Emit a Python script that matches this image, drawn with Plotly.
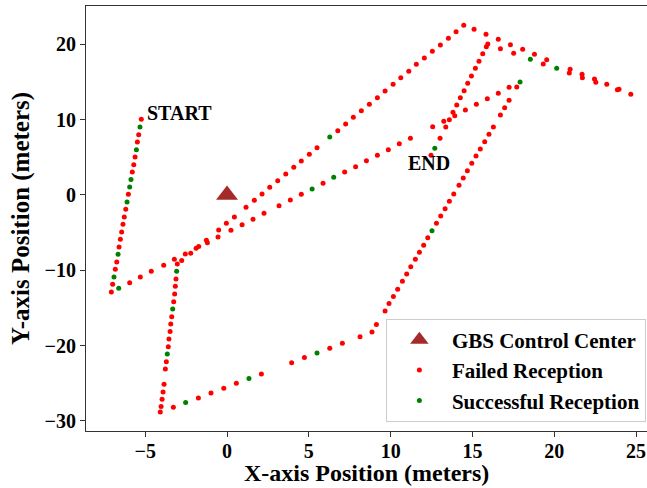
import plotly.graph_objects as go

# GBS control center location
center_x = [0.0]
center_y = [0.0]

# Failed reception points (red)
fail_x = [
    -5.24, -5.40, -5.48, -5.62, -5.70, -5.79, -6.03, -6.19, -6.28, -6.36, -6.44, -6.52, -6.60,
    -6.74, -6.83, -6.99, -7.07,
    -5.95, -5.30, -4.63, -3.87, -3.22,
    -3.04, -3.12, -3.16, -3.20, -3.26, -3.38, -3.44, -3.48, -3.55, -3.59, -3.71, -3.77, -3.85,
    -3.91, -3.97, -4.03, -4.08,
    -3.28, -1.75, -0.98, -0.20, 0.57, 2.10, 3.95, 4.73, 6.28, 7.05, 8.13, 8.86, 9.13,
    9.66, 9.90, 10.17, 10.43, 10.72, 10.98, 11.23, 11.51, 11.76, 12.02, 12.27, 12.80, 13.06,
    13.33, 13.59, 13.86, 14.18, 14.44, 14.69, 14.96, 15.22, 15.48, 15.75, 16.01, 16.28, 16.71,
    16.97, 17.24, 17.71,
    -2.77, -2.55, -2.22, -1.89, -1.73, -1.26, -1.20, -0.55, -0.51, -0.04, 0.24, 0.45, 0.92,
    1.16, 1.59, 1.67, 2.14, 2.26, 2.61, 3.10, 3.18, 3.59, 3.87, 4.08, 4.54, 4.54, 5.03, 5.50,
    5.87, 6.77, 7.19, 7.25, 7.72, 7.86, 8.21, 8.52, 8.70, 9.19, 9.19, 9.66, 9.86, 10.15, 10.53,
    10.62, 11.11, 11.21, 11.57, 12.06, 12.55, 13.04, 13.53, 14.00, 14.47,
    12.57, 13.25, 13.92, 14.57, 15.24, 15.91, 16.58, 17.24,
    15.85, 15.63, 15.40, 15.18, 14.94, 14.71, 14.49, 14.26, 14.04, 13.81, 13.59, 13.37, 13.02,
    12.47,
    15.10, 15.83, 16.58, 17.32, 18.07, 18.79, 19.54, 20.97, 21.70, 22.46, 23.21, 23.96, 24.68,
    23.86, 22.54, 21.72, 20.92, 19.33, 17.52, 16.71, 15.94,
]
fail_y = [
    10.05, 8.01, 7.04, 5.05, 4.03, 3.05, 0.09, -1.90, -2.92, -3.89, -4.91, -5.89, -6.91,
    -8.90, -9.87, -11.86, -12.88,
    -11.65, -10.89, -10.13, -9.34, -8.54,
    -9.16, -11.16, -12.12, -13.15, -14.17, -16.16, -17.13, -18.15, -19.12, -20.15, -22.14, -23.11, -25.14,
    -26.16, -27.13, -28.11, -28.82,
    -28.20, -26.96, -26.29, -25.67, -25.01, -23.77, -22.27, -21.60, -20.36, -19.70, -18.82, -18.19, -17.22,
    -15.41, -14.43, -13.50, -12.53, -11.47, -10.49, -9.52, -8.54, -7.62, -6.68, -5.67, -3.76, -2.79,
    -1.82, -0.84, 0.13, 1.29, 2.26, 3.23, 4.21, 5.18, 6.11, 7.08, 8.06, 9.03, 10.62,
    11.59, 12.58, 14.34,
    -8.72, -7.84, -7.75, -7.08, -6.86, -6.02, -6.33, -5.58, -4.65, -3.76, -4.69, -2.92, -3.94,
    -1.64, -3.23, -0.71, 0.13, -2.44, 1.02, 1.90, -1.42, 2.79, -0.66, 3.68, 4.52, 0.09, 5.40, 6.28,
    1.55, 8.54, 3.05, 9.43, 10.32, 3.76, 11.20, 4.56, 12.05, 5.27, 12.93, 13.81, 6.02, 14.70, 6.82,
    15.58, 16.42, 7.52, 17.36, 18.19, 19.08, 19.92, 20.81, 21.69, 22.54,
    9.07, 9.79, 10.53, 11.29, 12.04, 12.79, 13.51, 14.30,
    19.70, 18.77, 17.76, 16.83, 15.80, 14.83, 13.85, 12.92, 11.95, 10.98, 10.00, 9.03, 7.53,
    5.27,
    22.00, 21.34, 20.68, 19.96, 19.35, 18.69, 17.97, 16.69, 16.02, 15.41, 14.70, 14.04, 13.37,
    13.98, 14.96, 15.58, 16.20, 17.40, 18.82, 19.43, 20.05,
]

# Successful reception points (green)
succ_x = [
    -5.32, -5.54, -5.87, -5.95, -6.11, -6.66, -6.91, -6.62,
    -3.08, -3.32, -3.65,
    -2.53, 1.34, 5.50,
    12.53, 17.91,
    5.20, 6.28, 6.52,
    12.70,
    20.15, 18.54,
]
succ_y = [
    9.03, 6.02, 2.04, 1.06, -0.93, -7.88, -10.89, -12.39,
    -10.13, -15.14, -21.12,
    -27.58, -24.39, -20.98,
    -4.74, 15.01,
    0.80, 7.70, 2.35,
    6.20,
    16.83, 18.02,
]

# Path start / end labels
start_point = (-5.24, 10.05)
end_point = (12.47, 5.27)

x_ticks = [-5, 0, 5, 10, 15, 20, 25]
y_ticks = [-30, -20, -10, 0, 10, 20]

FONT = "Liberation Serif, Times New Roman, serif"

fig = go.Figure()
fig.add_trace(go.Scatter(
    x=center_x, y=center_y, mode="markers", name="GBS Control Center",
    marker=dict(symbol="triangle-up", size=19, color="#A52A2A"),
))
fig.add_trace(go.Scatter(
    x=fail_x, y=fail_y, mode="markers", name="Failed Reception",
    marker=dict(size=5, color="red"),
))
fig.add_trace(go.Scatter(
    x=succ_x, y=succ_y, mode="markers", name="Successful Reception",
    marker=dict(size=5, color="green"),
))

fig.add_annotation(x=start_point[0], y=start_point[1], text="START", showarrow=False,
                   xanchor="left", yanchor="middle", xshift=4, yshift=6,
                   font=dict(family=FONT, size=20, color="black", weight="bold"))
fig.add_annotation(x=end_point[0], y=end_point[1], text="END", showarrow=False,
                   xanchor="center", yanchor="middle", xshift=-2, yshift=-8,
                   font=dict(family=FONT, size=20, color="black", weight="bold"))
# x-axis title placed as paper annotation below the tick labels
fig.add_annotation(x=0.5, y=-0.1318, xref="paper", yref="paper",
                   text="X-axis Position (meters)", showarrow=False,
                   xanchor="center", yanchor="bottom", borderpad=0,
                   font=dict(family=FONT, size=24, color="black", weight="bold"))

axis_common = dict(
    showgrid=False, zeroline=False, showline=True, linecolor="#333", linewidth=1.2,
    ticks="outside", ticklen=5, tickwidth=1, tickcolor="#333", automargin=False,
    tickfont=dict(family=FONT, size=20, color="black", weight="bold"),
)
fig.update_xaxes(range=[-8.62, 25.67], tickvals=x_ticks, mirror=True,
                 ticklabelstandoff=-3, **axis_common)
fig.update_yaxes(range=[-31.35, 25.1], tickvals=y_ticks,
                 title=dict(text="Y-axis Position (meters)", standoff=7,
                            font=dict(family=FONT, size=25, color="black", weight="bold")),
                 **axis_common)

fig.update_layout(
    width=647, height=488,
    margin=dict(l=86, r=0, t=6, b=57),
    plot_bgcolor="white", paper_bgcolor="white",
    showlegend=True,
    legend=dict(x=0.998, xanchor="right", y=0.022, yanchor="bottom",
                bgcolor="rgba(255,255,255,0.85)", bordercolor="#cccccc", borderwidth=1,
                itemwidth=55,
                font=dict(family=FONT, size=21, color="black", weight="bold")),
)

fig.write_html("out.html")
